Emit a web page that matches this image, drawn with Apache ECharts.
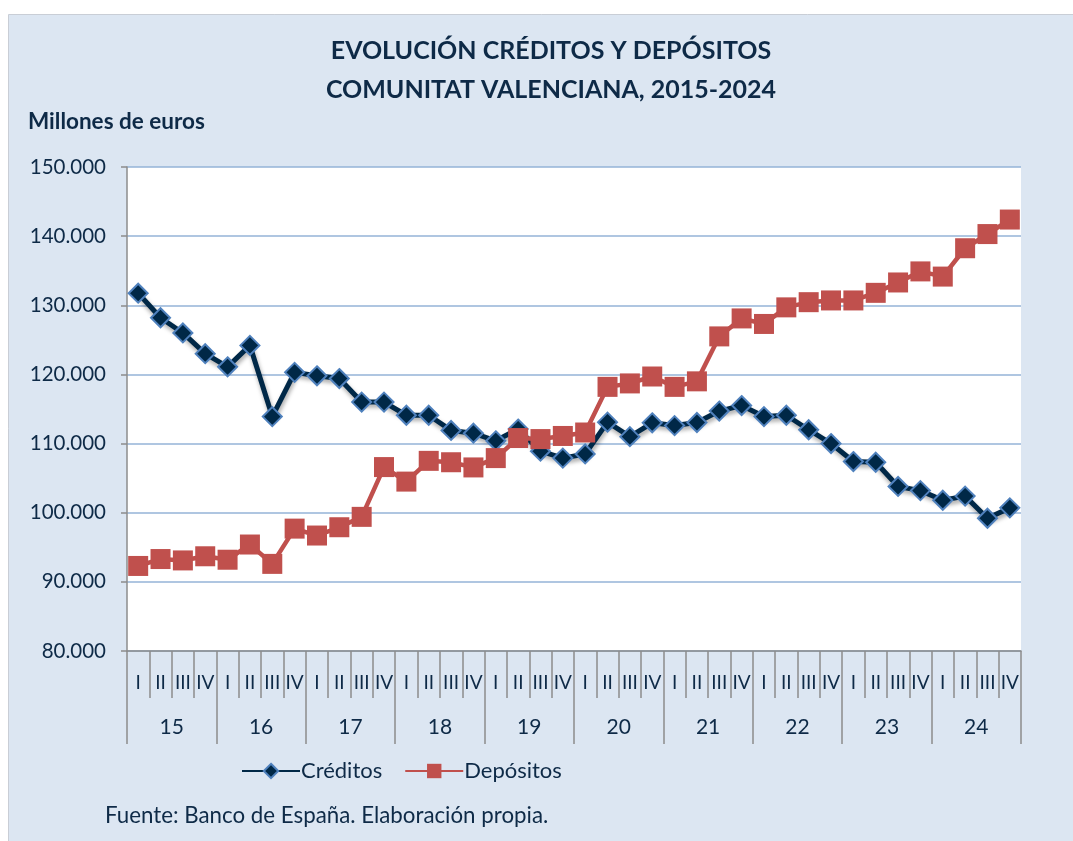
<!DOCTYPE html>
<html>
<head>
<meta charset="utf-8">
<title>Evolución créditos y depósitos</title>
<script src="https://cdn.jsdelivr.net/npm/echarts@6/dist/echarts.min.js"></script>
<style>
  html, body { margin: 0; padding: 0; background: #ffffff; }
  #chart { width: 1073px; height: 841px; }
</style>
</head>
<body>
<div id="chart"></div>
<script>
// quarters 2015-2024, millones de euros
const quarters = ['I', 'II', 'III', 'IV'];
const years = ['15', '16', '17', '18', '19', '20', '21', '22', '23', '24'];
const creditos = [
  131.75, 128.2, 126.0, 123.0, 121.1, 124.2, 113.9, 120.3,
  119.8, 119.4, 116.0, 116.0, 114.1, 114.1, 111.9, 111.5,
  110.4, 112.1, 108.9, 107.9, 108.5, 113.1, 111.0, 113.0,
  112.6, 113.05, 114.7, 115.5, 113.9, 114.1, 112.0, 110.0,
  107.4, 107.3, 103.8, 103.2, 101.8, 102.4, 99.2, 100.7
].map(v => v * 1000);
const depositos = [
  92.3, 93.3, 93.1, 93.7, 93.2, 95.4, 92.6, 97.7,
  96.7, 97.9, 99.4, 106.6, 104.5, 107.5, 107.3, 106.55,
  107.9, 110.8, 110.65, 111.1, 111.6, 118.2, 118.7, 119.7,
  118.2, 119.0, 125.5, 128.1, 127.3, 129.7, 130.45, 130.7,
  130.7, 131.8, 133.3, 134.9, 134.15, 138.25, 140.3, 142.4
].map(v => v * 1000);

const quarterLabels = [];
years.forEach(() => quarters.forEach(q => quarterLabels.push(q)));

const txt = '#0e2a47';
const axisGrey = '#8c8c8c';
const font = 'Lato';

const myChart = echarts.init(document.getElementById('chart'), null, { renderer: 'canvas' });

let option = {
  backgroundColor: '#ffffff',
  animation: false,
  textStyle: { fontFamily: font, color: txt },
  graphic: [
    {
      type: 'rect',
      z: -10,
      silent: true,
      shape: { x: 8.5, y: 14.5, width: 1070, height: 830 },
      style: { fill: '#dce6f2', stroke: '#c9ced6', lineWidth: 1 }
    },
    {
      type: 'text',
      x: 551,
      y: 31,
      style: {
        text: 'EVOLUCIÓN CRÉDITOS Y DEPÓSITOS\nCOMUNITAT VALENCIANA, 2015-2024',
        fill: txt,
        font: 'bold 25px Lato',
        align: 'center',
        lineHeight: 39
      }
    },
    {
      type: 'text',
      left: 28,
      top: 110,
      style: { text: 'Millones de euros', fill: txt, font: 'bold 22.5px Lato' }
    },
    {
      type: 'text',
      left: 105,
      top: 805,
      style: { text: 'Fuente: Banco de España. Elaboración propia.', fill: txt, font: '22.3px Lato' }
    }
  ],
  grid: {
    left: 127,
    right: 52,
    top: 167,
    bottom: 190,
    show: true,
    backgroundColor: '#ffffff',
    borderWidth: 0
  },
  legend: {
    left: 236,
    top: 755,
    itemWidth: 58,
    itemHeight: 18,
    itemGap: 22,
    textStyle: { fontFamily: font, fontSize: 22, color: txt, padding: [0, 0, 0, -4] },
    data: ['Créditos', 'Depósitos']
  },
  xAxis: [
    {
      type: 'category',
      data: quarterLabels,
      boundaryGap: true,
      axisLine: { show: true, onZero: false, lineStyle: { color: axisGrey, width: 1.5 } },
      axisTick: { show: true, interval: 0, length: 47, lineStyle: { color: axisGrey, width: 1.5 } },
      axisLabel: { interval: 0, margin: 22, fontSize: 19, color: txt, fontFamily: font }
    },
    {
      type: 'category',
      data: years,
      position: 'bottom',
      boundaryGap: true,
      axisLine: { show: false, onZero: false },
      axisTick: { show: true, interval: 0, length: 93, lineStyle: { color: axisGrey, width: 1.5 } },
      axisLabel: { interval: 0, margin: 66, fontSize: 21, color: txt, fontFamily: font }
    }
  ],
  yAxis: {
    type: 'value',
    min: 80000,
    max: 150000,
    interval: 10000,
    axisLine: { show: true, lineStyle: { color: axisGrey, width: 1.5 } },
    axisTick: { show: true, length: 6, lineStyle: { color: axisGrey, width: 1.5 } },
    splitLine: { lineStyle: { color: '#95b3d7', width: 1.5 } },
    axisLabel: {
      margin: 21,
      fontSize: 20.5,
      color: txt,
      fontFamily: font,
      formatter: v => String(v).replace(/\B(?=(\d{3})+(?!\d))/g, '.')
    }
  },
  series: [
    {
      name: 'Créditos',
      type: 'line',
      xAxisIndex: 0,
      data: creditos,
      symbol: 'diamond',
      symbolSize: 19,
      z: 3,
      lineStyle: {
        color: '#002847',
        width: 5,
        shadowColor: 'rgba(0,0,0,0.35)',
        shadowBlur: 4,
        shadowOffsetY: 3,
        shadowOffsetX: 1
      },
      itemStyle: { color: '#002847', borderColor: '#4f81bd', borderWidth: 2 }
    },
    {
      name: 'Depósitos',
      type: 'line',
      xAxisIndex: 0,
      data: depositos,
      symbol: 'rect',
      symbolSize: 20,
      z: 4,
      lineStyle: { color: '#c0504d', width: 4.5 },
      itemStyle: { color: '#c0504d', borderWidth: 0 }
    }
  ]
};
myChart.setOption(option);
</script>
</body>
</html>
